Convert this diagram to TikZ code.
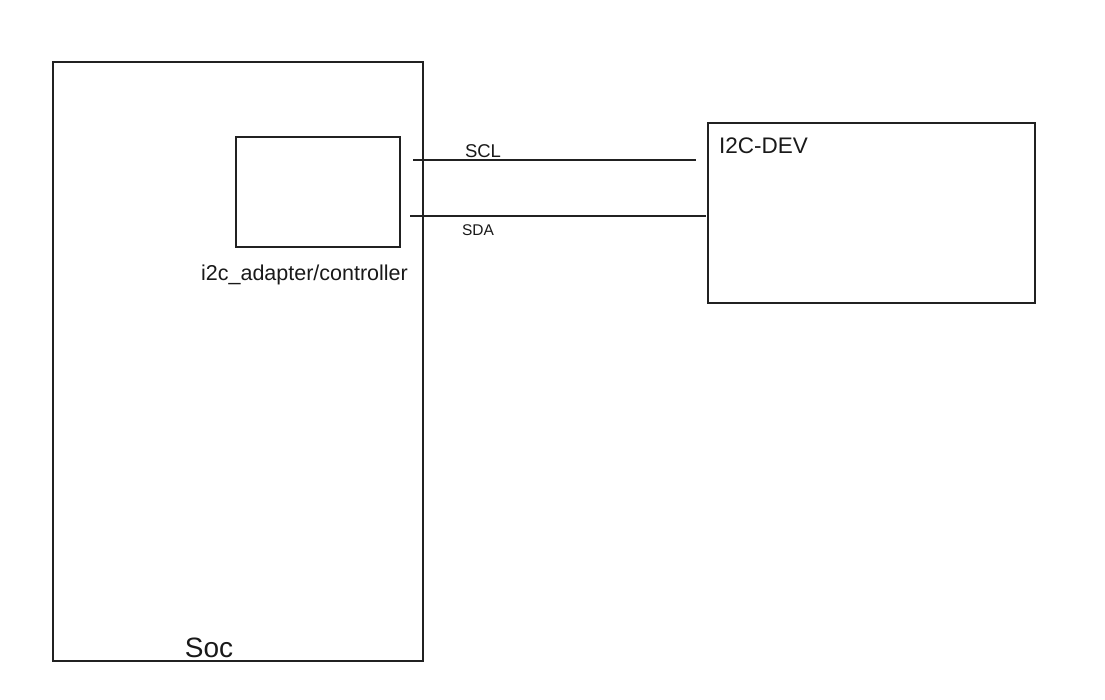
\documentclass[tikz,border=0pt]{standalone}
\usepackage{fontspec}
\setmainfont{Liberation Sans}
\begin{document}
\begin{tikzpicture}[x=1pt,y=-1pt,
  box/.style={draw=black!87, line width=2.3pt, rectangle, inner sep=0pt, anchor=north west},
  wire/.style={draw=black!87, line width=2.3pt},
  lbl/.style={inner sep=0pt, text=black!90}]
\useasboundingbox (0,0) rectangle (1105,699);
% boxes
\node[box, minimum width=370pt, minimum height=599pt] (soc) at (52,61) {};
\node[box, minimum width=164pt, minimum height=110pt] (ctrl) at (235,136) {};
\node[box, minimum width=327pt, minimum height=180pt] (dev) at (707,122) {};
% labels
\node[lbl, anchor=base] (soclbl) at (209,657) {\fontsize{28}{30}\selectfont Soc};
\node[lbl, anchor=base] (ctrllbl) at (304.5,280) {\fontsize{21.5}{23}\selectfont i2c\_adapter/controller};
\node[lbl, anchor=base west] (devlbl) at (719,153) {\fontsize{22.5}{24}\selectfont I2C-DEV};
\node[lbl, anchor=base] (scllbl) at (483,157) {\fontsize{18.5}{20}\selectfont SCL};
\node[lbl, anchor=base] (sdalbl) at (478,235) {\fontsize{15.5}{17}\selectfont SDA};
% wires
\coordinate (scla) at (413,160);
\coordinate (sclb) at (696,160);
\coordinate (sdaa) at (410,216);
\coordinate (sdab) at (706,216);
\draw[wire] (scla) -- (sclb);
\draw[wire] (sdaa) -- (sdab);
\end{tikzpicture}
\end{document}
